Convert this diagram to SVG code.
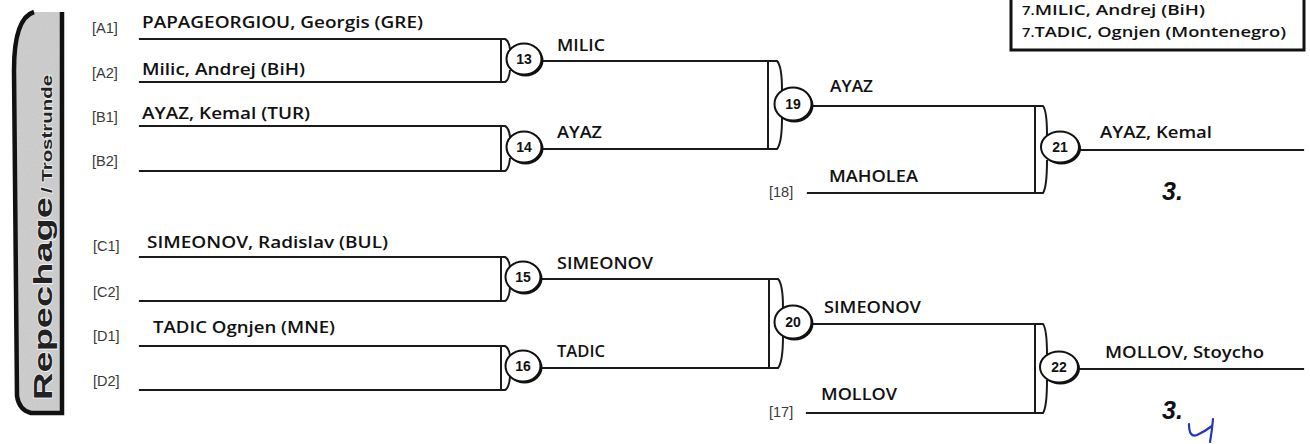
<svg xmlns="http://www.w3.org/2000/svg" width="1310" height="444" viewBox="0 0 1310 444">
<defs>
<style>
.ln{stroke:#1a1a1a;stroke-width:2.2;fill:none;stroke-linecap:square}
.br{stroke:#1a1a1a;stroke-width:2;fill:none}
.nm{font-family:"Open Sans","Liberation Sans",sans-serif;font-weight:600;font-size:17px;fill:#111}
.lg{font-family:"Open Sans","Liberation Sans",sans-serif;font-weight:600;font-size:15px;fill:#111}
.sd{font-family:"Liberation Sans",sans-serif;font-size:14.5px;fill:#3a3a3a}
.cn{font-family:"Liberation Sans",sans-serif;font-weight:700;font-size:14px;fill:#111;text-anchor:middle}
.circ{fill:#fff;stroke:#111;stroke-width:2}
.sh{fill:#111}
.pl{font-family:"Liberation Sans",sans-serif;font-weight:700;font-style:italic;font-size:25px;fill:#111}
.tab{font-family:"Liberation Sans",sans-serif;font-weight:700;fill:#222;stroke:#eee;stroke-width:1.5;paint-order:stroke}
</style>
<filter id="grain" x="0" y="0" width="1" height="1">
<feTurbulence type="fractalNoise" baseFrequency="0.9" numOctaves="2" seed="3" result="n"/>
<feColorMatrix in="n" type="matrix" values="0 0 0 0 0.55  0 0 0 0 0.55  0 0 0 0 0.55  0 0 0 1.4 -0.55" result="d"/>
<feComposite in="d" in2="SourceGraphic" operator="in" result="dm"/>
<feMerge><feMergeNode in="SourceGraphic"/><feMergeNode in="dm"/></feMerge>
</filter>
</defs>
<rect width="1310" height="444" fill="#fff"/>

<g id="tab">
<path d="M62,12 L62,413 L31,413 Q19,410 17,396 L14,70 Q14,18 34,12 Z" fill="#cdcdcd" filter="url(#grain)"/>
<path d="M62,12 L62,413 L31,413 Q19,410 17,396 L14,70 Q14,18 34,12" fill="none" stroke="#111" stroke-width="4.5"/>
<g transform="translate(52,400) rotate(-90)">
<text class="tab" x="0" y="0" font-size="26" textLength="203" lengthAdjust="spacingAndGlyphs">Repechage</text>
<text class="tab" x="207" y="0" font-size="15" textLength="118" lengthAdjust="spacingAndGlyphs">/ Trostrunde</text>
</g>
</g>

<g id="legend">
<path d="M1011,-5 V50 H1304 V-5" fill="#fff" stroke="#111" stroke-width="3"/>
<text class="lg" x="1022" y="15" textLength="183" lengthAdjust="spacingAndGlyphs"><tspan font-size="12">7.</tspan>MILIC, Andrej (BiH)</text>
<text class="lg" x="1022" y="37" textLength="264" lengthAdjust="spacingAndGlyphs"><tspan font-size="12">7.</tspan>TADIC, Ognjen (Montenegro)</text>
</g>

<g id="seeds">
<text class="sd" x="92" y="33">[A1]</text>
<text class="sd" x="92" y="78">[A2]</text>
<text class="sd" x="92" y="122">[B1]</text>
<text class="sd" x="92" y="166">[B2]</text>
<text class="sd" x="93" y="251">[C1]</text>
<text class="sd" x="93" y="297">[C2]</text>
<text class="sd" x="93" y="341">[D1]</text>
<text class="sd" x="93" y="386">[D2]</text>
<text class="sd" x="769" y="197">[18]</text>
<text class="sd" x="769" y="417">[17]</text>
</g>

<g id="connectors">
<path class="ln" d="M140,39 H501 M140,82 H501 M140,126 H501 M140,171 H501"/>
<path class="ln" d="M140,257 H501 M140,301 H501 M140,346 H501 M140,390 H501"/>
<path class="br" d="M501,39 V82 M501,39 H505 Q509,41 510,49 M510,70 Q509,80 505,82 H501"/>
<path class="br" d="M501,126 V171 M501,126 H505 Q509,128 510,137 M510,158 Q509,169 505,171 H501"/>
<path class="br" d="M501,257 V301 M501,257 H505 Q509,259 510,267 M510,288 Q509,299 505,301 H501"/>
<path class="br" d="M501,346 V390 M501,346 H505 Q509,348 510,356 M510,377 Q509,388 505,390 H501"/>
<path class="ln" d="M541,61 H768 M541,149 H768 M541,279 H769 M541,368 H769"/>
<path class="br" d="M768,61 V149 M768,61 H777 Q782,66 782,90 M782,118 Q782,143 777,149 H768"/>
<path class="br" d="M769,279 V368 M769,279 H778 Q783,284 783,308 M783,336 Q783,362 778,368 H769"/>
<path class="ln" d="M811,106 H1035 M808,193 H1035 M811,324 H1035 M807,413 H1035"/>
<path class="br" d="M1035,106 V193 M1035,106 H1043 Q1047,111 1047,135 M1047,160 Q1047,187 1043,193 H1035"/>
<path class="br" d="M1035,324 V413 M1035,324 H1043 Q1047,329 1047,355 M1047,380 Q1047,407 1043,413 H1035"/>
<path class="ln" d="M1079,150 H1303 M1078,369 H1303"/>
</g>

<g id="m13"><ellipse class="sh" cx="525.5" cy="60.5" rx="18" ry="16"/><ellipse class="circ" cx="524" cy="59" rx="17.5" ry="15.5"/><text class="cn" x="524" y="64">13</text></g>
<g id="m14"><ellipse class="sh" cx="525.5" cy="148.5" rx="18" ry="16"/><ellipse class="circ" cx="524" cy="147" rx="17.5" ry="15.5"/><text class="cn" x="524" y="152">14</text></g>
<g id="m15"><ellipse class="sh" cx="524.5" cy="278.5" rx="18" ry="16"/><ellipse class="circ" cx="523" cy="277" rx="17.5" ry="15.5"/><text class="cn" x="523" y="282">15</text></g>
<g id="m16"><ellipse class="sh" cx="524.5" cy="367.5" rx="18" ry="16"/><ellipse class="circ" cx="523" cy="366" rx="17.5" ry="15.5"/><text class="cn" x="523" y="371">16</text></g>
<g id="m19"><ellipse class="sh" cx="794.5" cy="105.5" rx="19" ry="17"/><ellipse class="circ" cx="793" cy="104" rx="18.5" ry="16.5"/><text class="cn" x="793" y="109">19</text></g>
<g id="m20"><ellipse class="sh" cx="794.5" cy="323.5" rx="19" ry="17"/><ellipse class="circ" cx="793" cy="322" rx="18.5" ry="16.5"/><text class="cn" x="793" y="327">20</text></g>
<g id="m21"><ellipse class="sh" cx="1061.5" cy="148.5" rx="19.5" ry="16"/><ellipse class="circ" cx="1060" cy="147" rx="19" ry="15.5"/><text class="cn" x="1060" y="152">21</text></g>
<g id="m22"><ellipse class="sh" cx="1060.5" cy="368.5" rx="19.5" ry="16"/><ellipse class="circ" cx="1059" cy="367" rx="19" ry="15.5"/><text class="cn" x="1059" y="372">22</text></g>

<g id="names">
<text class="nm" x="142" y="28" textLength="281" lengthAdjust="spacingAndGlyphs">PAPAGEORGIOU, Georgis (GRE)</text>
<text class="nm" x="142" y="75" textLength="163" lengthAdjust="spacingAndGlyphs">Milic, Andrej (BiH)</text>
<text class="nm" x="142" y="119" textLength="168" lengthAdjust="spacingAndGlyphs">AYAZ, Kemal (TUR)</text>
<text class="nm" x="147" y="248" textLength="241" lengthAdjust="spacingAndGlyphs">SIMEONOV, Radislav (BUL)</text>
<text class="nm" x="153" y="333" textLength="182" lengthAdjust="spacingAndGlyphs">TADIC Ognjen (MNE)</text>
<text class="nm" x="557" y="51" textLength="48" lengthAdjust="spacingAndGlyphs">MILIC</text>
<text class="nm" x="557" y="138" textLength="45" lengthAdjust="spacingAndGlyphs">AYAZ</text>
<text class="nm" x="557" y="269" textLength="96" lengthAdjust="spacingAndGlyphs">SIMEONOV</text>
<text class="nm" x="557" y="357" textLength="48" lengthAdjust="spacingAndGlyphs">TADIC</text>
<text class="nm" x="830" y="92" textLength="43" lengthAdjust="spacingAndGlyphs">AYAZ</text>
<text class="nm" x="829" y="182" textLength="89" lengthAdjust="spacingAndGlyphs">MAHOLEA</text>
<text class="nm" x="824" y="313" textLength="97" lengthAdjust="spacingAndGlyphs">SIMEONOV</text>
<text class="nm" x="821" y="400" textLength="76" lengthAdjust="spacingAndGlyphs">MOLLOV</text>
<text class="nm" x="1100" y="138" textLength="112" lengthAdjust="spacingAndGlyphs">AYAZ, Kemal</text>
<text class="nm" x="1105" y="358" textLength="159" lengthAdjust="spacingAndGlyphs">MOLLOV, Stoycho</text>
</g>

<g id="placings">
<text class="pl" x="1162" y="200">3.</text>
<text class="pl" x="1162" y="419">3.</text>
<path d="M1189,424 Q1189,438 1197,435 Q1204,432 1212,426 M1213,419 Q1212,431 1210,442" fill="none" stroke="#2236b8" stroke-width="2.2" stroke-linecap="round"/>
</g>
</svg>
